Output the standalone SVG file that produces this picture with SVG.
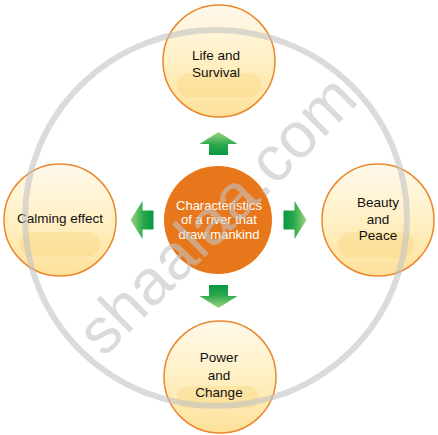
<svg xmlns="http://www.w3.org/2000/svg" width="438" height="435" viewBox="0 0 438 435">
<defs>
<linearGradient id="sat" x1="0" y1="0" x2="0" y2="1">
<stop offset="0" stop-color="#fff9ec"/>
<stop offset="0.5" stop-color="#fff0c4"/>
<stop offset="1" stop-color="#fde19a"/>
</linearGradient>
<linearGradient id="arr" gradientUnits="userSpaceOnUse" x1="0" y1="-65" x2="0" y2="-88">
<stop offset="0" stop-color="#079744"/>
<stop offset="0.45" stop-color="#2aa94e"/>
<stop offset="1" stop-color="#9fd480"/>
</linearGradient>
<path id="arrow" d="M0,-88 L19,-76 L9.5,-76 L9.5,-65 L-9.5,-65 L-9.5,-76 L-19,-76 Z"/>
<style>
.sat{fill:url(#sat);stroke:#ec872a;stroke-width:1.5}
.band{fill:#f3cc60;opacity:0.25}
.lbl{font-family:"Liberation Sans",Arial,sans-serif;font-size:13.5px;fill:#111;text-anchor:middle}
.ctr{font-family:"Liberation Sans",Arial,sans-serif;font-size:13px;fill:#fff;text-anchor:middle}
</style>
</defs>
<rect width="438" height="435" fill="#fff"/>
<g id="connectors" fill="url(#arr)">
<use href="#arrow" transform="translate(218.5,220)"/>
<use href="#arrow" transform="translate(218.5,220) rotate(90)"/>
<use href="#arrow" transform="translate(218.5,220) rotate(180)"/>
<use href="#arrow" transform="translate(218.5,220) rotate(270)"/>
</g>
<g id="center">
<circle cx="218" cy="220" r="54" fill="#e8771b"/>
<text class="ctr" x="219" y="209.5">Characteristics</text>
<text class="ctr" x="219" y="224">of a river that</text>
<text class="ctr" x="219" y="238.5">draw mankind</text>
</g>
<g id="life">
<circle class="sat" cx="219" cy="61" r="56"/>
<rect class="band" x="177" y="73" width="84" height="24" rx="12"/>
<text class="lbl" x="216" y="60">Life and</text>
<text class="lbl" x="216" y="76.5">Survival</text>
</g>
<g id="beauty">
<circle class="sat" cx="378" cy="220" r="56"/>
<rect class="band" x="338" y="232" width="76" height="25" rx="12"/>
<text class="lbl" x="378" y="207">Beauty</text>
<text class="lbl" x="378" y="223.5">and</text>
<text class="lbl" x="378" y="240">Peace</text>
</g>
<g id="power">
<circle class="sat" cx="220" cy="377" r="56"/>
<rect class="band" x="177" y="386" width="82" height="22" rx="11"/>
<text class="lbl" x="219" y="362">Power</text>
<text class="lbl" x="219" y="379.5">and</text>
<text class="lbl" x="219" y="397">Change</text>
</g>
<g id="calming">
<circle class="sat" cx="60" cy="220" r="56"/>
<rect class="band" x="20" y="232" width="80" height="24" rx="12"/>
<text class="lbl" x="60" y="223">Calming effect</text>
</g>
<g id="watermark" opacity="0.6">
<ellipse cx="216" cy="218" rx="191" ry="188" fill="none" stroke="#c4c4c4" stroke-width="6"/>
<text x="0" y="17" transform="translate(220,218) rotate(-45)" font-family="'Liberation Sans',Arial,sans-serif" font-size="64" fill="#c4c4c4" text-anchor="middle">shaalaa.com</text>
</g>
</svg>
